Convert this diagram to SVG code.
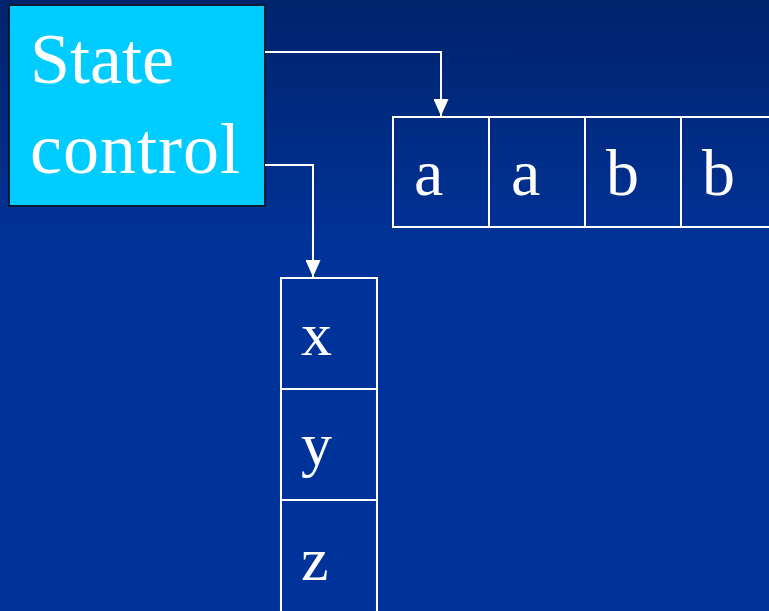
<svg xmlns="http://www.w3.org/2000/svg" width="769" height="611" viewBox="0 0 769 611">
<defs>
<linearGradient id="bg" x1="0" y1="0" x2="0" y2="1" gradientUnits="objectBoundingBox">
<stop offset="0" stop-color="#00236c"/>
<stop offset="0.42" stop-color="#003399"/>
<stop offset="1" stop-color="#003399"/>
</linearGradient>
<marker id="arr" markerWidth="15" markerHeight="17" refX="7.5" refY="17" orient="0" markerUnits="userSpaceOnUse">
<path d="M0,0 L15,0 L7.5,17 Z" fill="#ffffff"/>
</marker>
<style>
.cell{fill:none;stroke:#ffffff;stroke-width:2}
.lbl{font-family:"Liberation Serif","Times New Roman",serif;fill:#ffffff}
.conn{fill:none;stroke:#ffffff;stroke-width:2}
</style>
</defs>
<rect x="0" y="0" width="769" height="611" fill="url(#bg)"/>
<g id="state-control">
<rect x="9" y="5" width="256" height="201" fill="#00ccff" stroke="#0a1a33" stroke-width="2"/>
<text class="lbl" x="30" y="83" font-size="72">State</text>
<text class="lbl" x="30" y="173" font-size="72" textLength="210">control</text>
</g>
<g id="tape">
<rect class="cell" x="393" y="117" width="96" height="110"/>
<rect class="cell" x="489" y="117" width="96" height="110"/>
<rect class="cell" x="585" y="117" width="96" height="110"/>
<rect class="cell" x="681" y="117" width="96" height="110"/>
<text class="lbl" x="414" y="195" font-size="66">a</text>
<text class="lbl" x="511" y="195" font-size="66">a</text>
<text class="lbl" x="606" y="195" font-size="66">b</text>
<text class="lbl" x="702" y="195" font-size="66">b</text>
</g>
<g id="stack">
<rect class="cell" x="281" y="278" width="96" height="111"/>
<rect class="cell" x="281" y="389" width="96" height="111"/>
<rect class="cell" x="281" y="500" width="96" height="120"/>
<text class="lbl" x="301" y="355" font-size="62">x</text>
<text class="lbl" x="301" y="465" font-size="62">y</text>
<text class="lbl" x="301" y="580" font-size="62">z</text>
</g>
<g id="connectors">
<polyline class="conn" points="265,52 441,52 441,116" marker-end="url(#arr)"/>
<polyline class="conn" points="265,165 313,165 313,277" marker-end="url(#arr)"/>
</g>
</svg>
